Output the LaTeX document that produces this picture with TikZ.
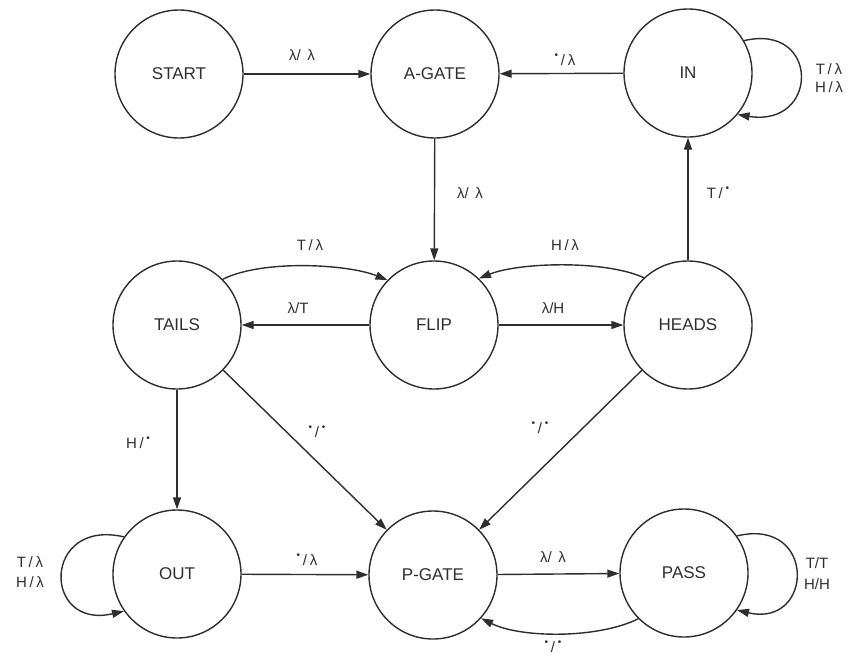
\documentclass[tikz,border=0pt]{standalone}
\usepackage{fontspec}
\setmainfont{Liberation Sans}
\usetikzlibrary{arrows.meta}
\definecolor{ink}{HTML}{2E2E2E}
% small raised dot used for the "any symbol" mark
\newcommand\anysym{\raisebox{0.45em}{\fontsize{10}{10}\selectfont •}}
\newcommand\sep{\hspace{0.18em}/\hspace{0.18em}}
\begin{document}
\begin{tikzpicture}[x=1pt,y=-1pt,
  state/.style={circle,draw=ink,line width=1.4pt,minimum size=128pt,inner sep=0pt,
    font=\fontsize{17}{19}\selectfont,text=ink},
  lbl/.style={font=\fontsize{15}{17}\selectfont,text=ink,inner sep=1pt},
  edge/.style={draw=ink,line width=1.4pt,-{Triangle[length=12pt,width=8pt]}},
  every node/.append style={text depth=0pt}]
\useasboundingbox[fill=white] (0,0) rectangle (848,661);

% states
\node[state] (START) at (179,74)  {START};
\node[state] (AGATE) at (435,74)  {A-GATE};
\node[state] (IN)    at (688,73)  {IN};
\node[state] (TAILS) at (177,325) {TAILS};
\node[state] (FLIP)  at (434,325) {FLIP};
\node[state] (HEADS) at (688,325) {HEADS};
\node[state] (OUT)   at (177,574) {OUT};
\node[state] (PGATE) at (433,575) {P-GATE};
\node[state] (PASS)  at (684,573) {PASS};

% transitions
\draw[edge] (START) -- (AGATE);
\draw[edge] (IN) -- (AGATE);
\draw[edge] (AGATE) -- (FLIP);
\draw[edge] (HEADS) -- (IN);
\draw[edge] (FLIP) -- (TAILS);
\draw[edge] (FLIP) -- (HEADS);
\draw[edge] (TAILS) -- (OUT);
\draw[edge] (TAILS) -- (PGATE);
\draw[edge] (HEADS) -- (PGATE);
\draw[edge] (OUT) -- (PGATE);
\draw[edge] (PGATE) -- (PASS);
\draw[edge] (TAILS.45) .. controls +(40,-20) and +(-40,-16) .. (FLIP.136);
\draw[edge] (HEADS.133) .. controls +(-40,-18) and +(40,-16) .. (FLIP.46);
\draw[edge] (PASS.225) .. controls +(-40,20) and +(40,20) .. (PGATE.-42);

% self loops
\draw[edge] (IN.30) .. controls +(76,-18) and +(82,13) .. (IN.-40);
\draw[edge] (PASS.35) .. controls +(80,-19) and +(77,18) .. (PASS.-35);
\draw[edge] (OUT.145) .. controls +(-82,-19) and +(-82,19) .. (OUT.215);

% transition labels
\node[lbl] (l1)  at (302,55)  {λ/\hspace{0.45em}λ};
\node[lbl] (l2)  at (565,60)  {\anysym\sep λ};
\node[lbl] (l3a) at (829,69)  {T\sep λ};
\node[lbl] (l3b) at (829,87)  {H\sep λ};
\node[lbl] (l4)  at (470,193) {λ/\hspace{0.45em}λ};
\node[lbl] (l5)  at (718,193) {T\sep\anysym};
\node[lbl] (l6)  at (310,245) {T\sep λ};
\node[lbl] (l7)  at (565,245) {H\sep λ};
\node[lbl] (l8)  at (298,308) {λ/T};
\node[lbl] (l9)  at (553,308) {λ/H};
\node[lbl] (l10) at (138,443) {H\sep\anysym};
\node[lbl] (l11) at (317,432) {\anysym\sep\anysym};
\node[lbl] (l12) at (540,428) {\anysym\sep\anysym};
\node[lbl] (l13a) at (30,562) {T\sep λ};
\node[lbl] (l13b) at (30,582) {H\sep λ};
\node[lbl] (l14) at (307,560) {\anysym\sep λ};
\node[lbl] (l15) at (553,557) {λ/\hspace{0.45em}λ};
\node[lbl] (l16a) at (817,563) {T/T};
\node[lbl] (l16b) at (817,584) {H/H};
\node[lbl] (l17) at (553,647) {\anysym\sep\anysym};
\end{tikzpicture}
\end{document}
